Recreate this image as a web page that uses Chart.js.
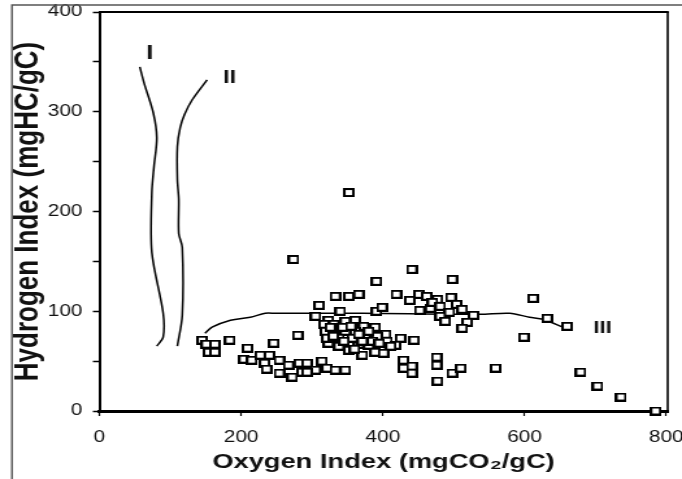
<!DOCTYPE html>
<html>
<head>
<meta charset="utf-8">
<script src="https://cdn.jsdelivr.net/npm/chart.js@4.4.0/dist/chart.umd.min.js"></script>
<style>
  html, body { margin: 0; padding: 0; background: #fff; }
  #chart { display: block; }
</style>
</head>
<body>
<!-- the source figure is stretched sideways, so the canvas is drawn narrow and widened by css -->
<canvas id="chart" width="525" height="479" style="width:682px;height:479px"></canvas>
<script>
/* ===== Rock-Eval pseudo van Krevelen plot ===== */

// Samples (oxygen index, hydrogen index)
const sampleOI = [352, 274, 441, 498, 391,
  333, 352, 366, 419, 438, 451, 462, 477, 496,
  310, 340, 305, 323, 391, 399,
  452, 467, 470, 481, 504, 512, 528, 494, 481, 488, 519, 512,
  612, 632, 660, 599,
  679, 703, 736, 785,
  444, 425, 429, 429, 441, 441, 476, 476, 477, 498, 510, 559,
  317, 331, 347, 361, 373, 389, 404, 319, 333, 347, 361, 375, 392, 406, 418,
  323, 338, 352, 366, 380, 397, 411, 352, 371, 389, 401, 338, 357, 371, 385, 321, 280,
  326, 343, 355, 366, 380, 395, 345, 360, 330,
  282, 293, 314, 305, 321, 333, 347, 286, 293,
  145, 151, 163, 154, 163, 184, 209, 246,
  204, 215, 227, 240, 233, 236, 254, 254, 267, 272];
const sampleHI = [219, 152, 142, 132, 130,
  115, 115, 117, 117, 111, 117, 115, 112, 114,
  106, 100, 95, 91, 100, 104,
  101, 103, 109, 105, 107, 102, 96, 99, 95, 90, 89, 83,
  113, 93, 85, 74,
  39, 25, 14, 0,
  71, 73, 51, 43, 45, 38, 54, 46, 30, 38, 43, 43,
  87, 87, 90, 91, 85, 84, 77, 80, 81, 80, 80, 76, 75, 70, 66,
  68, 65, 68, 67, 66, 63, 65, 61, 56, 59, 58, 73, 73, 70, 70, 73, 76,
  84, 84, 85, 77, 80, 68, 70, 62, 75,
  48, 48, 50, 41, 43, 41, 41, 39, 39,
  71, 67, 67, 59, 59, 71, 63, 68,
  52, 51, 56, 56, 48, 42, 51, 38, 46, 34];

// Kerogen type pathways
const typeIOI = [57, 63, 76, 81, 77, 74, 74, 90, 90, 81];
const typeIHI = [345, 329, 299, 274, 245, 219, 159, 98, 74, 65];
const typeIIOI = [152, 131, 120, 114, 110, 110, 112, 112, 117, 117, 110];
const typeIIHI = [332, 312, 297, 284, 265, 232, 212, 178, 164, 96, 65];
const typeIIIOI = [149, 159, 185, 213, 234, 248, 301, 372, 537, 579, 607, 626, 654];
const typeIIIHI = [78, 84, 91, 94, 98, 98, 98, 98, 97, 98, 94, 92, 84];

// Pathway labels
const typeLabels = ['I', 'II', 'III'];
const typeLabelOI = [71, 184, 710];
const typeLabelHI = [358, 334, 83];

// Axes
const oiTicks = [0, 200, 400, 600, 800];
const hiTicks = [0, 100, 200, 300, 400];

const FONT = "'Liberation Sans', Arial, Helvetica, sans-serif";

const pts = (xs, ys) => xs.map((x, i) => ({ x: x, y: ys[i] }));

// open square marker
const marker = document.createElement('canvas');
marker.width = 9;
marker.height = 9;
(function () {
  const m = marker.getContext('2d');
  m.fillStyle = '#fff';
  m.fillRect(0, 0, 9, 9);
  m.strokeStyle = '#000';
  m.lineWidth = 2;
  m.strokeRect(1, 1, 7, 7);
})();

const curve = (xs, ys) => ({
  data: pts(xs, ys),
  showLine: true,
  pointRadius: 0,
  borderColor: '#000',
  borderWidth: 1.5,
  tension: 0.3,
  order: 1
});

const framePlugin = {
  id: 'frame',
  afterDraw(chart) {
    const { ctx, chartArea: a, width, height } = chart;
    const sx = chart.scales.x, sy = chart.scales.y;
    ctx.save();
    // top and right edges of the plot box
    ctx.strokeStyle = '#000';
    ctx.lineWidth = 2;
    ctx.beginPath();
    ctx.moveTo(a.left, a.top);
    ctx.lineTo(a.right + 0.8, a.top);
    ctx.stroke();
    ctx.lineWidth = 1.6;
    ctx.beginPath();
    ctx.moveTo(a.right, a.top);
    ctx.lineTo(a.right, a.bottom);
    ctx.stroke();
    // outer figure frame
    ctx.strokeStyle = '#555';
    ctx.lineWidth = 1.4;
    ctx.beginPath();
    ctx.moveTo(9.2, height);
    ctx.lineTo(9.2, 5);
    ctx.lineTo(width, 5);
    ctx.stroke();
    // pathway labels
    const sizes = [20, 18, 17];
    ctx.fillStyle = '#111';
    ctx.textAlign = 'center';
    ctx.textBaseline = 'middle';
    typeLabels.forEach((t, i) => {
      ctx.font = `bold ${sizes[i]}px ${FONT}`;
      ctx.fillText(t, sx.getPixelForValue(typeLabelOI[i]), sy.getPixelForValue(typeLabelHI[i]));
    });
    ctx.restore();
  }
};

new Chart(document.getElementById('chart'), {
  type: 'scatter',
  data: {
    datasets: [
      {
        data: pts(sampleOI, sampleHI),
        pointStyle: marker,
        pointRadius: 5,
        clip: false,
        order: 0
      },
      curve(typeIOI, typeIHI),
      curve(typeIIOI, typeIIHI),
      curve(typeIIIOI, typeIIIHI)
    ]
  },
  options: {
    responsive: false,
    animation: false,
    devicePixelRatio: 1,
    layout: { padding: { left: 2, top: 12, right: 11, bottom: 0 } },
    plugins: { legend: { display: false }, tooltip: { enabled: false } },
    scales: {
      x: {
        type: 'linear',
        min: 0,
        max: 802,
        border: { display: true, color: '#000', width: 3 },
        grid: { drawOnChartArea: false, drawTicks: true, tickLength: 5, tickColor: '#000', tickWidth: 1.2 },
        afterBuildTicks: s => { s.ticks = oiTicks.map(v => ({ value: v })); },
        ticks: { padding: 12, color: '#111', font: { family: FONT, size: 16 }, maxRotation: 0, autoSkip: false },
        title: {
          display: true,
          text: 'Oxygen Index (mgCO\u2082/gC)',
          color: '#111',
          font: { family: FONT, size: 21, weight: 'bold' },
          padding: { top: 4, bottom: 4 }
        },
        afterFit: s => { s.height = 68; s.paddingLeft = 0; s.paddingRight = 0; }
      },
      y: {
        type: 'linear',
        min: 0,
        max: 400,
        border: { display: true, color: '#000', width: 2 },
        grid: { drawOnChartArea: false, drawTicks: true, tickLength: 5, tickColor: '#000', tickWidth: 1.5 },
        afterBuildTicks: s => {
          const all = [];
          hiTicks.forEach((v, i) => { all.push({ value: v }); if (i < hiTicks.length - 1) all.push({ value: (v + hiTicks[i + 1]) / 2 }); });
          s.ticks = all;
        },
        ticks: {
          padding: 8,
          color: '#111',
          font: { family: FONT, size: 16 },
          autoSkip: false,
          callback: v => (hiTicks.includes(v) ? v : '')
        },
        title: {
          display: true,
          text: 'Hydrogen Index (mgHC/gC)',
          color: '#111',
          font: { family: FONT, size: 26, weight: 'bold' },
          padding: { top: 4, bottom: 4 }
        },
        afterFit: s => { s.width = 74.5; s.paddingTop = 0; s.paddingBottom = 0; }
      }
    }
  },
  plugins: [framePlugin]
});
</script>
</body>
</html>
